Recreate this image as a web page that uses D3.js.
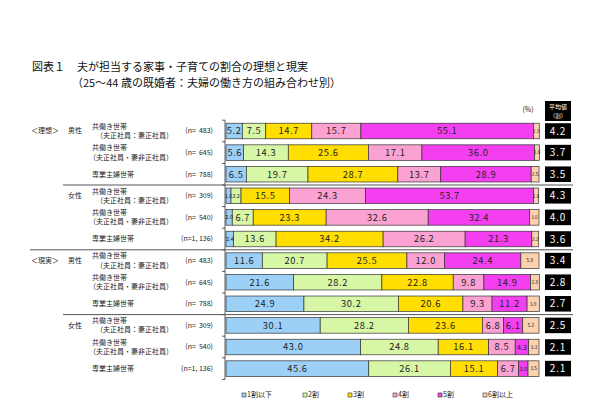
<!DOCTYPE html>
<html>
<head>
<meta charset="utf-8">
<script src="https://cdn.jsdelivr.net/npm/d3@7"></script>
<style>
  body { margin: 0; background: #fff; }
  svg { font-family: "Noto Sans CJK JP", "Noto Sans", sans-serif; }
</style>
</head>
<body>
<svg width="600" height="416"></svg>
<script>
const categories = ['1割以下', '2割', '3割', '4割', '5割', '6割以上']
const colors = ['#9dd0f7', '#d8f7a6', '#ffde00', '#fba2d2', '#f43ff0', '#fcd2ae']

const phases = ['＜理想＞', '＜現実＞']
const sexes = ['男性', '女性']
const households = [
    ['共働き世帯', '（夫正社員：妻正社員）'],
    ['共働き世帯', '（夫正社員・妻非正社員）'],
    ['専業主婦世帯']
]
const nLabels = ['(n=  483)', '(n=  645)', '(n=  788)', '(n=  309)', '(n=  540)', '(n=1, 136)']

// 理想
const ideal = [
    [5.2, 7.5, 14.7, 15.7, 55.1, 1.9],
    [5.6, 14.3, 25.6, 17.1, 36.0, 1.6],
    [6.5, 19.7, 28.7, 13.7, 28.9, 2.5],
    [1.6, 3.2, 15.5, 24.3, 53.7, 1.6],
    [2.0, 6.7, 23.3, 32.6, 32.4, 3.0],
    [2.4, 13.6, 34.2, 26.2, 21.3, 2.2]
]
// 現実
const reality = [
    [11.6, 20.7, 25.5, 12.0, 24.4, 5.8],
    [21.6, 28.2, 22.8, 9.8, 14.9, 2.8],
    [24.9, 30.2, 20.6, 9.3, 11.2, 3.9],
    [30.1, 28.2, 23.6, 6.8, 6.1, 5.2],
    [43.0, 24.8, 16.1, 8.5, 4.3, 3.3],
    [45.6, 26.1, 15.1, 6.7, 3.0, 3.5]
]
const averages = [4.2, 3.7, 3.5, 4.3, 4.0, 3.6, 3.4, 2.8, 2.7, 2.5, 2.1, 2.1]

const rows = ideal.concat(reality)

const svg = d3.select('svg')

const x_scale = d3.scaleLinear().domain([0, 100]).range([226, 539])
const y_scale = d3.scaleBand()
    .domain(d3.range(rows.length))
    .range([120.2, 379.4])
    .paddingInner(0.28)
    .paddingOuter(0.14)

// title
svg.append('text').attr('x', 32).attr('y', 71).attr('font-size', 11).attr('fill', '#111')
    .text('図表１')
svg.append('text').attr('x', 77).attr('y', 71).attr('font-size', 11).attr('fill', '#111')
    .text('夫が担当する家事・子育ての割合の理想と現実')
svg.append('text').attr('x', 72).attr('y', 87).attr('font-size', 11).attr('fill', '#111')
    .text('（25～44 歳の既婚者：夫婦の働き方の組み合わせ別）')

// axis with ticks between bars
const bounds = d3.range(rows.length + 1).map(i => y_scale.range()[0] + i * y_scale.step())
const axis_x = 225
svg.append('line')
    .attr('x1', axis_x).attr('x2', axis_x)
    .attr('y1', bounds[0]).attr('y2', bounds[bounds.length - 1])
    .attr('stroke', '#333').attr('stroke-width', 0.8)
svg.selectAll('.tick-mark').data(bounds).enter().append('line')
    .attr('x1', axis_x - 3).attr('x2', axis_x)
    .attr('y1', d => d).attr('y2', d => d)
    .attr('stroke', '#333').attr('stroke-width', 0.8)

// separators
const seps = [
    { i: 3, x1: 63 },
    { i: 6, x1: 30 },
    { i: 9, x1: 63 }
]
svg.selectAll('.sep').data(seps).enter().append('line')
    .attr('x1', d => d.x1).attr('x2', 573)
    .attr('y1', d => bounds[d.i]).attr('y2', d => bounds[d.i])
    .attr('stroke', '#555').attr('stroke-width', 1)

// left labels
const cy = i => y_scale(i) + y_scale.bandwidth() / 2
const lab = svg.append('g').attr('font-size', 7).attr('fill', '#222')
phases.forEach((p, pi) => {
    lab.append('text').attr('x', 31).attr('y', cy(pi * 6)).attr('dy', '0.35em').text(p)
    sexes.forEach((s, si) => {
        lab.append('text').attr('x', 68).attr('y', cy(pi * 6 + si * 3)).attr('dy', '0.35em').text(s)
        households.forEach((h, hi) => {
            const i = pi * 6 + si * 3 + hi
            if (h.length === 2) {
                lab.append('text').attr('x', 92).attr('y', cy(i) - 4.6).attr('dy', '0.35em').text(h[0])
                lab.append('text').attr('x', 173).attr('y', cy(i) + 4.6).attr('dy', '0.35em')
                    .attr('text-anchor', 'end').text(h[1])
            } else {
                lab.append('text').attr('x', 92).attr('y', cy(i)).attr('dy', '0.35em').text(h[0])
            }
            lab.append('text').attr('x', 213).attr('y', cy(i)).attr('dy', '0.35em')
                .attr('text-anchor', 'end').attr('xml:space', 'preserve').text(nLabels[si * 3 + hi])
        })
    })
})

// stacked bars
const stacked = rows.map(r => {
    let acc = 0
    return r.map((v, k) => {
        const s = { v: v, k: k, x0: acc, x1: acc + v }
        acc += v
        return s
    })
})

const row_g = svg.selectAll('.row').data(stacked).enter().append('g')
    .attr('transform', (d, i) => `translate(0,${y_scale(i)})`)

row_g.selectAll('rect').data(d => d).enter().append('rect')
    .attr('x', d => x_scale(d.x0))
    .attr('width', d => x_scale(d.x1) - x_scale(d.x0))
    .attr('height', y_scale.bandwidth())
    .attr('fill', d => colors[d.k])
    .attr('stroke', '#333').attr('stroke-width', 0.7)

const fontFor = d => {
    if (d.k === 5) return 4.8
    if (d.v < 3.5) return 5.5
    if (d.v < 5) return 7
    return 9.3
}
row_g.selectAll('text').data(d => d).enter().append('text')
    .attr('x', d => (x_scale(d.x0) + x_scale(d.x1)) / 2)
    .attr('y', y_scale.bandwidth() / 2)
    .attr('dy', '0.36em')
    .attr('text-anchor', 'middle')
    .attr('font-size', fontFor)
    .attr('letter-spacing', d => fontFor(d) > 8 ? 0.6 : 0)
    .attr('fill', '#222')
    .text(d => d.v.toFixed(1))

// average boxes
svg.append('rect').attr('x', 545).attr('y', 101).attr('width', 26).attr('height', 20).attr('fill', '#000')
svg.append('text').attr('x', 558).attr('y', 109).attr('text-anchor', 'middle')
    .attr('font-size', 6).attr('fill', '#fff').text('平均値')
svg.append('text').attr('x', 558).attr('y', 117.5).attr('text-anchor', 'middle')
    .attr('font-size', 5.5).attr('fill', '#fff').text('（割）')
svg.append('text').attr('x', 528).attr('y', 112).attr('text-anchor', 'middle')
    .attr('font-size', 7).attr('fill', '#222').text('(%)')

svg.selectAll('.avg').data(averages).enter().append('rect')
    .attr('x', 545).attr('y', (d, i) => y_scale(i))
    .attr('width', 26).attr('height', y_scale.bandwidth())
    .attr('fill', '#000')
svg.selectAll('.avgt').data(averages).enter().append('text')
    .attr('x', 558).attr('y', (d, i) => cy(i)).attr('dy', '0.36em')
    .attr('text-anchor', 'middle').attr('font-size', 10).attr('fill', '#fff')
    .attr('letter-spacing', 0.8)
    .text(d => d.toFixed(1))

// legend
const legend_x = [244, 305, 350, 395, 440, 485]
const leg = svg.selectAll('.leg').data(categories).enter().append('g')
    .attr('transform', (d, i) => `translate(${legend_x[i]},395)`)
leg.append('rect').attr('x', -2).attr('y', -2).attr('width', 4).attr('height', 4)
    .attr('fill', (d, i) => colors[i]).attr('stroke', '#333').attr('stroke-width', 0.6)
leg.append('text').attr('x', 3).attr('dy', '0.35em').attr('font-size', 7).attr('fill', '#222')
    .text(d => d)
</script>
</body>
</html>
